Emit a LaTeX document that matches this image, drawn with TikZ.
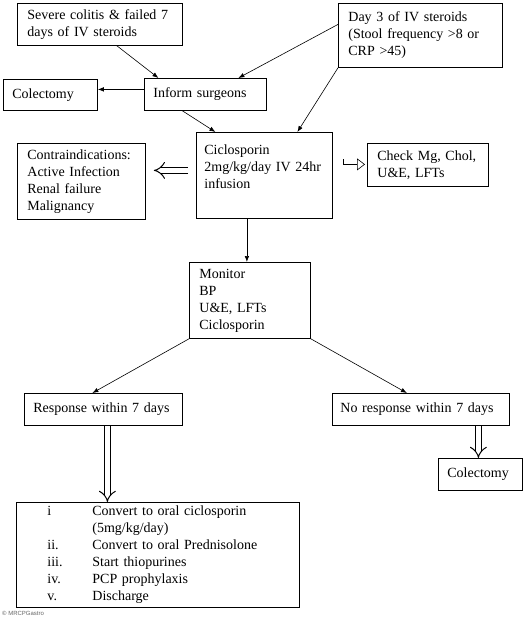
\documentclass[tikz,border=0pt]{standalone}
\usepackage{fontspec}
\setmainfont{Liberation Serif}
\setsansfont{Liberation Sans}
\usetikzlibrary{arrows.meta}

\begin{document}
\begin{tikzpicture}[x=1pt,y=-1pt,font=\fontsize{14}{17}\selectfont]
  % some styles
  \tikzset{
    box/.style={
      rectangle,
      draw=black,
      line width=.8pt,
      anchor=north west,
      align=left,
      inner ysep=0pt,
      inner xsep=#1,
    },
    box/.default=10pt,
    link/.style={black, line width=.6pt, -{Latex[length=6pt,width=4.5pt]}},
    fat/.style={draw=black, double=white, line width=1pt, double distance=5pt, -{Implies[length=5pt]}},
  }
  \useasboundingbox (0,0) rectangle (530,620);
  % boxes, top row
  \node[box, text width=145pt, minimum height=42pt] (sev) at (17,3) {Severe colitis \& failed 7\\days of IV steroids};
  \node[box, text width=144pt, minimum height=64pt] (day) at (338,3) {Day 3 of IV steroids\\(Stool frequency >8 or\\CRP >45)};
  \node[box=9pt, text width=76pt, minimum height=31pt] (col-a) at (3,79) {Colectomy};
  \node[box=9pt, text width=104pt, minimum height=32pt] (inform) at (144,78) {Inform surgeons};
  % ciclosporin and its side boxes
  \node[box=8pt, text width=120pt, minimum height=86pt] (cic) at (196,132) {Ciclosporin\\2mg/kg/day IV 24hr\\infusion\\\mbox{}};
  \node[box, text width=108pt, minimum height=76pt] (contra) at (17,143) {Contraindications:\\Active Infection\\Renal failure\\Malignancy};
  \node[box, text width=101pt, minimum height=43pt] (check) at (367,143) {Check Mg, Chol,\\U\&E, LFTs};
  \node[box, text width=101pt, minimum height=76pt] (monitor) at (189,262) {Monitor\\BP\\U\&E, LFTs\\Ciclosporin};
  % outcome
  \node[box=9pt, text width=140pt, minimum height=32pt] (resp) at (24,393) {Response within 7 days};
  \node[box=8pt, text width=161pt, minimum height=32pt] (noresp) at (332,393) {No response within 7 days};
  \node[box=9pt, text width=66pt, minimum height=32pt] (col-b) at (438,458) {Colectomy};
  \node[box, text width=263pt, minimum height=105pt] (plan) at (16,502) {%
    \begin{tabular}{@{\hspace{21pt}}p{45pt}@{}l@{}}
      i    & Convert to oral ciclosporin\\
           & (5mg/kg/day)\\
      ii.  & Convert to oral Prednisolone\\
      iii. & Start thiopurines\\
      iv.  & PCP prophylaxis\\
      v.   & Discharge
    \end{tabular}};
  \node[font=\fontsize{6}{7}\selectfont\sffamily, text=black!60, anchor=west, inner sep=0pt] (logo) at (2,613) {© MRCPGastro};
  % thin arrows
  \draw[link] ([xshift=17pt]sev.south) -- ([xshift=-47pt]inform.north);
  \draw[link] ([yshift=11pt]day.west) -- ([xshift=33pt]inform.north);
  \draw[link] ([yshift=5pt]inform.west) -- ([yshift=5pt]inform.west -| col-a.east);
  \draw[link] ([xshift=-23pt]inform.south) -- ([xshift=-49pt]cic.north);
  \draw[link] (day.south west) -- ([xshift=33pt]cic.north);
  \draw[link] ([xshift=-3pt]monitor.north |- cic.south) -- ([xshift=-3pt]monitor.north);
  \draw[link] (monitor.south west) -- ([xshift=-11pt]resp.north);
  \draw[link] (monitor.south east) -- ([xshift=-14pt]noresp.north);
  % hollow arrows
  \draw[fat, shorten <=8pt, shorten >=8pt] ([yshift=5pt]cic.west) -- ([yshift=5pt]cic.west -| contra.east);
  \draw[fat, shorten <=.5pt] ([xshift=4pt]resp.south) -- ([xshift=4pt]resp.south |- plan.north);
  \draw[fat, shorten <=.5pt] ([xshift=-2pt]col-b.north |- noresp.south) -- ([xshift=-2pt]col-b.north);
  \draw[black, line width=.6pt, -{Triangle[open,length=8pt,width=12pt]}]
    ([xshift=10pt,yshift=16pt]cic.east) |- ([xshift=-2pt,yshift=11pt]cic.east -| check.west);
\end{tikzpicture}
\end{document}
